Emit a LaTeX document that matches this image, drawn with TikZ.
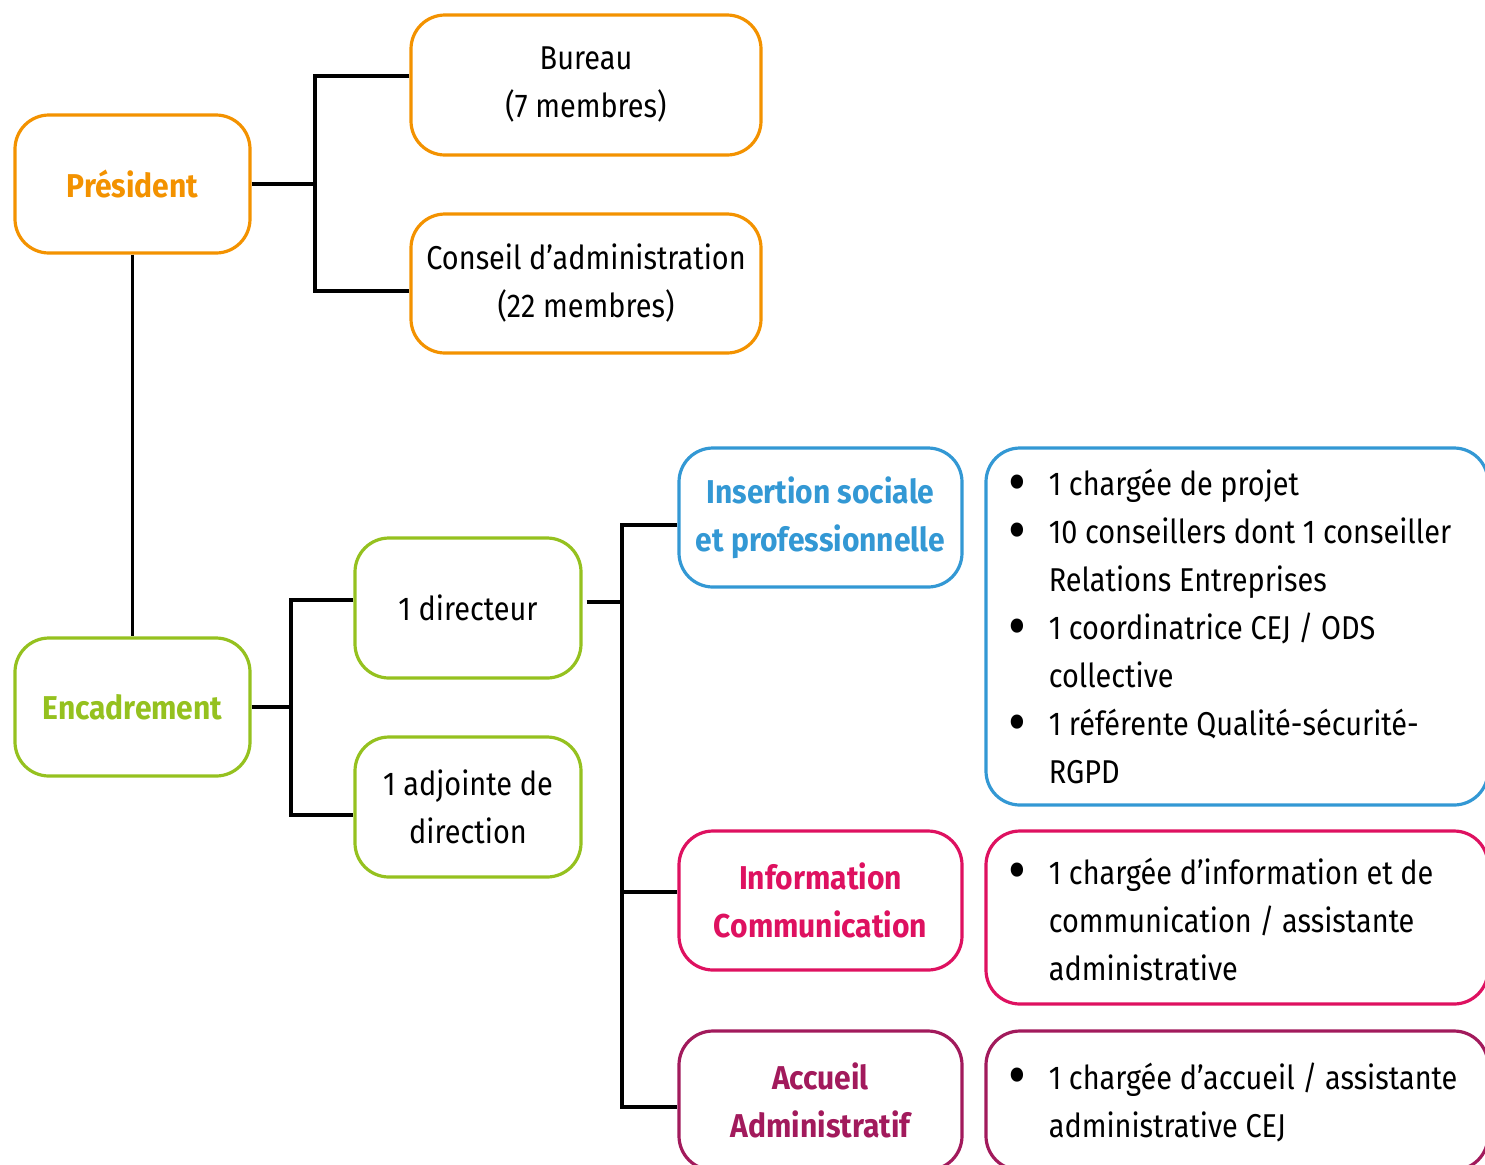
\documentclass[tikz,border=0pt]{standalone}
\usepackage{fontspec}
\setmainfont{Fira Sans}[FakeStretch=0.875]
\newfontfamily\ttlfont{Fira Sans}[FakeStretch=0.91]
\definecolor{orgc}{HTML}{F39200}
\definecolor{grnc}{HTML}{95C11F}
\definecolor{bluc}{HTML}{3398D4}
\definecolor{pnkc}{HTML}{DE1160}
\definecolor{purc}{HTML}{A21A5C}
\newcommand{\bul}{\makebox[20pt][l]{\smash{\raisebox{-0.24em}{\scalebox{1.9}{\textbullet}}}}}
\begin{document}
\begin{tikzpicture}[x=0.5pt,y=-0.5pt,
  box/.style={draw=#1, line width=1.6pt, rounded corners=17pt, align=center, inner sep=0pt,
    font=\fontsize{16.5pt}{24pt}\selectfont},
  ttl/.style={font=\fontsize{16.5pt}{24pt}\ttlfont\bfseries},
  lst/.style={anchor=west, inner sep=0pt, align=left, font=\fontsize{16.5pt}{24pt}\selectfont},
  conn/.style={draw=black, line width=1.7pt}]
\useasboundingbox (0,0) rectangle (1485,1164);
\begin{scope}
\clip (0,0) rectangle (1485,1164);
% top
\node[box=orgc, minimum width=117.5pt, minimum height=69pt, text=orgc, ttl] (pres) at (132.5,184) {Président};
\node[box=orgc, minimum width=175pt, minimum height=70pt] (bur) at (586,85) {Bureau\\(7 membres)};
\node[box=orgc, minimum width=175pt, minimum height=69.5pt] (con) at (586,283.5) {Conseil d’administration\\(22 membres)};
% encadrement
\node[box=grnc, minimum width=117.5pt, minimum height=69pt, text=grnc, ttl] (enc) at (132.5,707) {Encadrement};
\node[box=grnc, minimum width=113pt, minimum height=70pt] (dir) at (468,608) {1 directeur};
\node[box=grnc, minimum width=113pt, minimum height=70pt] (adj) at (468,807) {1 adjointe de\\direction};
% services
\node[box=bluc, minimum width=141.5pt, minimum height=69.5pt, text=bluc, ttl] (ins) at (820.5,517.5) {Insertion sociale\\et professionnelle};
\node[box=pnkc, minimum width=141.5pt, minimum height=69.5pt, text=pnkc, ttl] (inf) at (820.5,900.5) {Information\\Communication};
\node[box=purc, minimum width=141.5pt, minimum height=69.5pt, text=purc, ttl] (acc) at (820.5,1100.5) {Accueil\\Administratif};
% lists
\node[box=bluc, minimum width=251pt, minimum height=178.5pt] (insl) at (1237,626.5) {};
\node[box=pnkc, minimum width=251pt, minimum height=86.5pt] (infl) at (1237,917.5) {};
\node[box=purc, minimum width=251pt, minimum height=69.5pt] (accl) at (1237,1100.5) {};
\node[lst] (inst) at ([xshift=12pt,yshift=0pt]insl.west) {%
\bul 1 chargée de projet\\
\bul 10 conseillers dont 1 conseiller\\
\hspace*{20pt}Relations Entreprises\\
\bul 1 coordinatrice CEJ / ODS\\
\hspace*{20pt}collective\\
\bul 1 référente Qualité-sécurité-\\
\hspace*{20pt}RGPD};
\node[lst] (inft) at ([xshift=12pt,yshift=-0.75pt]infl.west) {%
\bul 1 chargée d’information et de\\
\hspace*{20pt}communication / assistante\\
\hspace*{20pt}administrative};
\node[lst] (acct) at ([xshift=12pt,yshift=-0.75pt]accl.west) {%
\bul 1 chargée d’accueil / assistante\\
\hspace*{20pt}administrative CEJ};
% connectors
\coordinate (j1) at (315,184);
\draw[conn] (pres.east) -- (j1);
\draw[conn] ([yshift=4.5pt]bur.west) -| (j1) |- ([yshift=-3.75pt]con.west);
\draw[conn] (pres.south) -- (enc.north);
\coordinate (j2) at (291,707);
\draw[conn] (enc.east) -- (j2);
\draw[conn] ([yshift=4pt]dir.west) -| (j2) |- ([yshift=-4pt]adj.west);
\coordinate (j3) at (622,602);
\draw[conn] ([yshift=3pt,xshift=2pt]dir.east) -- (j3);
\draw[conn] ([yshift=-3.75pt]ins.west) -| (j3) |- ([yshift=-3.25pt]acc.west);
\draw[conn] (j3 |- inf.west) ++(0,-8.5) -- ([yshift=4.25pt]inf.west);
\end{scope}
\end{tikzpicture}
\end{document}
